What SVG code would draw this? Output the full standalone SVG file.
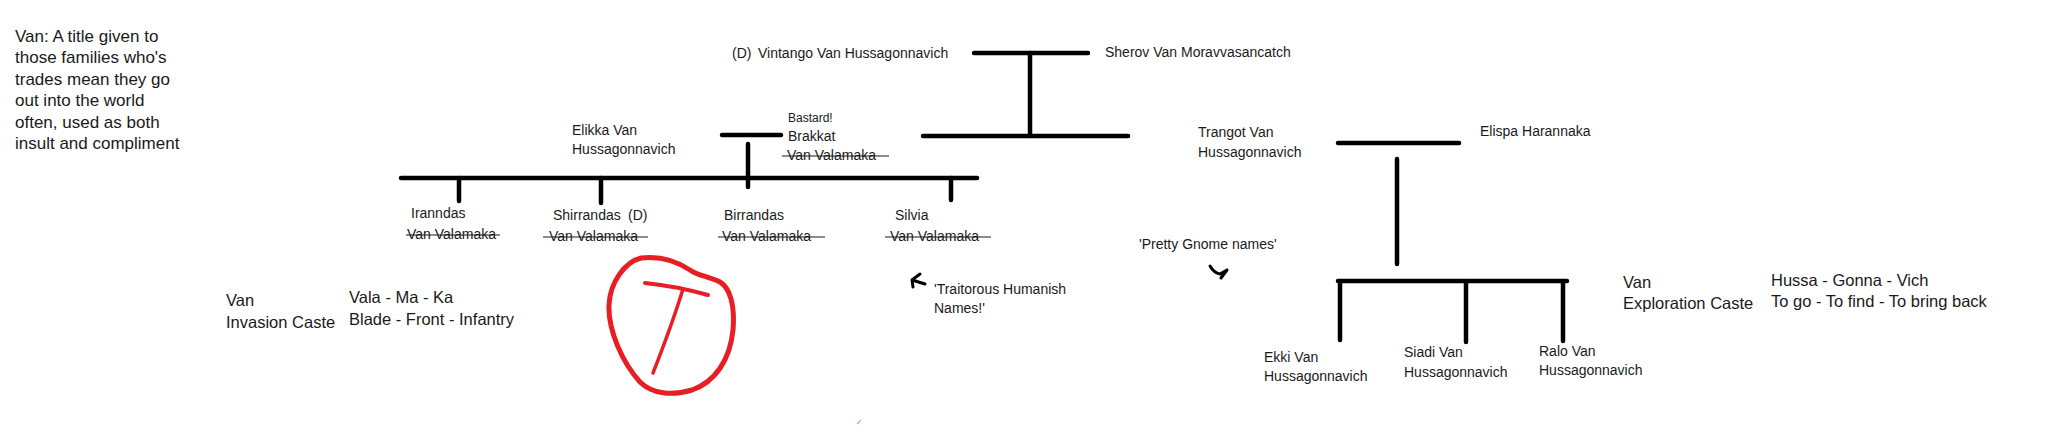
<svg xmlns="http://www.w3.org/2000/svg" width="2048" height="437" viewBox="0 0 2048 437">
<style>
text{font-family:"Liberation Sans",Arial,sans-serif;fill:#1a1a1a;font-size:14px}
.big{font-size:17px}
.mid{font-size:16.5px}
.sm{font-size:12px}
.ln{stroke:#000;stroke-width:4.5;stroke-linecap:round;fill:none}
.st{stroke:#1a1a1a;stroke-width:1.2;fill:none}
.hand{stroke:#000;stroke-width:3;stroke-linecap:round;stroke-linejoin:round;fill:none}
.red{stroke:#e81e25;stroke-linecap:round;stroke-linejoin:round;fill:none}
</style>
<rect width="2048" height="437" fill="#fff"/>

<g id="note-van">
<text class="big" x="15" y="42">Van: A title given to</text>
<text class="big" x="15" y="63">those families who's</text>
<text class="big" x="15" y="85">trades mean they go</text>
<text class="big" x="15" y="106">out into the world</text>
<text class="big" x="15" y="128">often, used as both</text>
<text class="big" x="15" y="149">insult and compliment</text>
</g>

<g id="connectors">
<line class="ln" x1="974" y1="53" x2="1088" y2="53"/>
<line class="ln" x1="1030" y1="53" x2="1030" y2="136"/>
<line class="ln" x1="923" y1="136" x2="1128" y2="136"/>
<line class="ln" x1="722" y1="135" x2="781" y2="135"/>
<line class="ln" x1="748" y1="144" x2="748" y2="187"/>
<line class="ln" x1="401" y1="178" x2="977" y2="178"/>
<line class="ln" x1="459" y1="178" x2="459" y2="201"/>
<line class="ln" x1="601" y1="178" x2="601" y2="203"/>
<line class="ln" x1="951" y1="178" x2="951" y2="200"/>
<line class="ln" x1="1338" y1="143" x2="1459" y2="143"/>
<line class="ln" x1="1397" y1="159" x2="1397" y2="264"/>
<line class="ln" x1="1338" y1="281" x2="1567" y2="281"/>
<line class="ln" x1="1340" y1="281" x2="1340" y2="340"/>
<line class="ln" x1="1466" y1="281" x2="1466" y2="342"/>
<line class="ln" x1="1563" y1="281" x2="1563" y2="341"/>
</g>

<g id="vintango"><text x="732" y="58">(D)</text><text x="758" y="58">Vintango Van Hussagonnavich</text></g>
<g id="sherov"><text x="1105" y="57">Sherov Van Moravvasancatch</text></g>
<g id="elikka"><text x="572" y="135">Elikka Van</text><text x="572" y="154">Hussagonnavich</text></g>
<g id="brakkat">
<text class="sm" x="788" y="122">Bastard!</text>
<text x="788" y="141">Brakkat</text>
<text x="787" y="160">Van Valamaka</text>
<line class="st" x1="782" y1="156" x2="889" y2="156"/>
</g>
<g id="iranndas">
<text x="411" y="218">Iranndas</text>
<text x="407" y="239">Van Valamaka</text>
<line class="st" x1="406" y1="235" x2="500" y2="235"/>
</g>
<g id="shirrandas">
<text x="553" y="220">Shirrandas</text><text x="628" y="220">(D)</text>
<text x="549" y="241">Van Valamaka</text>
<line class="st" x1="543" y1="237" x2="648" y2="237"/>
</g>
<g id="birrandas">
<text x="724" y="220">Birrandas</text>
<text x="722" y="241">Van Valamaka</text>
<line class="st" x1="718" y1="237" x2="825" y2="237"/>
</g>
<g id="silvia">
<text x="895" y="220">Silvia</text>
<text x="890" y="241">Van Valamaka</text>
<line class="st" x1="885" y1="237" x2="991" y2="237"/>
</g>
<g id="trangot"><text x="1198" y="137">Trangot Van</text><text x="1198" y="157">Hussagonnavich</text></g>
<g id="elispa"><text x="1480" y="136">Elispa Harannaka</text></g>
<g id="ekki"><text x="1264" y="362">Ekki Van</text><text x="1264" y="381">Hussagonnavich</text></g>
<g id="siadi"><text x="1404" y="357">Siadi Van</text><text x="1404" y="377">Hussagonnavich</text></g>
<g id="ralo"><text x="1539" y="356">Ralo Van</text><text x="1539" y="375">Hussagonnavich</text></g>

<g id="note-pretty">
<text x="1139" y="249">'Pretty Gnome names'</text>
<path class="hand" d="M1210 266 Q1214 273 1220 274 L1227 270 M1227 270 L1221 278"/>
</g>
<g id="note-traitorous">
<path class="hand" d="M925 284 L912 280 M920 274 L912 280 L913 287"/>
<text x="934" y="294">'Traitorous Humanish</text>
<text x="934" y="313">Names!'</text>
</g>

<g id="invasion-caste">
<text class="mid" x="226" y="306">Van</text>
<text class="mid" x="226" y="328">Invasion Caste</text>
<text class="mid" x="349" y="303">Vala - Ma - Ka</text>
<text class="mid" x="349" y="325">Blade - Front - Infantry</text>
</g>
<g id="exploration-caste">
<text class="mid" x="1623" y="288">Van</text>
<text class="mid" x="1623" y="309">Exploration Caste</text>
<text class="mid" x="1771" y="286">Hussa - Gonna - Vich</text>
<text class="mid" x="1771" y="307">To go - To find - To bring back</text>
</g>

<g id="red-mark">
<path class="red" stroke-width="5" d="M641 258 C625 262 610 282 609 305 C608 330 622 362 640 382 C652 394 672 396 692 390 C715 382 730 360 733 330 C735 305 730 288 720 282 C708 276 698 276 690 270 C675 260 658 256 641 258"/>
<path class="red" stroke-width="4" d="M645 283 C665 285 690 290 708 295"/>
<path class="red" stroke-width="3.5" d="M683 289 C675 315 664 345 653 373"/>
<line x1="857" y1="424" x2="861" y2="420" stroke="#f5a0a0" stroke-width="1.5"/>
</g>
</svg>
